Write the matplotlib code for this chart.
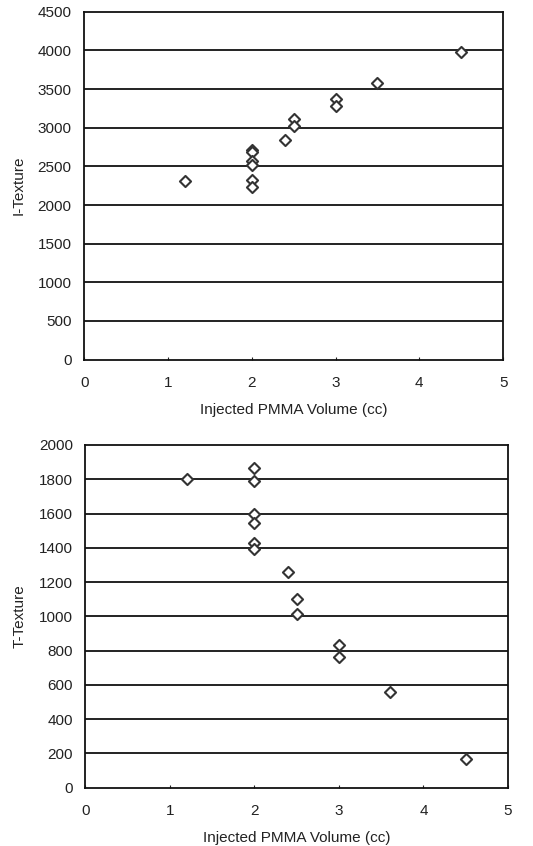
import numpy as np
import matplotlib
matplotlib.use("Agg")
import matplotlib.pyplot as plt

plt.rcParams['font.family'] = ['Liberation Sans', 'DejaVu Sans']

# top panel: I-Texture vs injected volume
i_vol = [1.2, 2.0, 2.0, 2.0, 2.0, 2.0, 2.0, 2.4, 2.5, 2.5, 3.0, 3.0, 3.5, 4.5]
i_tex = [2305, 2715, 2680, 2565, 2520, 2330, 2228, 2840, 3110, 3025, 3375, 3285, 3580, 3985]

# bottom panel: T-Texture vs injected volume
t_vol = [1.2, 2.0, 2.0, 2.0, 2.0, 2.0, 2.0, 2.4, 2.5, 2.5, 3.0, 3.0, 3.6, 4.5]
t_tex = [1800, 1868, 1790, 1600, 1545, 1430, 1390, 1260, 1100, 1015, 835, 762, 558, 168]

xticks = [0, 1, 2, 3, 4, 5]
i_yticks = np.arange(0, 4501, 500)
t_yticks = np.arange(0, 2001, 200)
xlabel = 'Injected PMMA Volume (cc)'

fig = plt.figure(figsize=(5.33, 8.46), dpi=100)
ax1 = fig.add_axes([0.158, 0.575, 0.786, 0.411])
ax2 = fig.add_axes([0.160, 0.069, 0.793, 0.405])

def style(ax, x, y, yticks, ylabel):
    ax.scatter(x, y, marker='D', s=32, facecolors='white', edgecolors='#333333',
               linewidths=1.5, zorder=3)
    ax.set_xlim(0, 5)
    ax.set_ylim(yticks[0], yticks[-1])
    ax.set_xticks(xticks)
    ax.set_yticks(yticks)
    for v in yticks[1:-1]:
        ax.axhline(v, color='#111111', lw=1.3, zorder=1)
    for s in ax.spines.values():
        s.set_color('#111111')
        s.set_linewidth(1.3)
    ax.tick_params(axis='x', direction='in', length=2, pad=12, labelsize=11,
                   colors='#222222')
    ax.tick_params(axis='y', length=0, pad=9, labelsize=11, colors='#222222')
    ax.set_xlabel(xlabel, fontsize=11, color='#222222', labelpad=9)
    ax.set_ylabel(ylabel, fontsize=11, color='#222222', labelpad=9)

style(ax1, i_vol, i_tex, i_yticks, 'I-Texture')
style(ax2, t_vol, t_tex, t_yticks, 'T-Texture')

fig.savefig('out.png', dpi=100)
